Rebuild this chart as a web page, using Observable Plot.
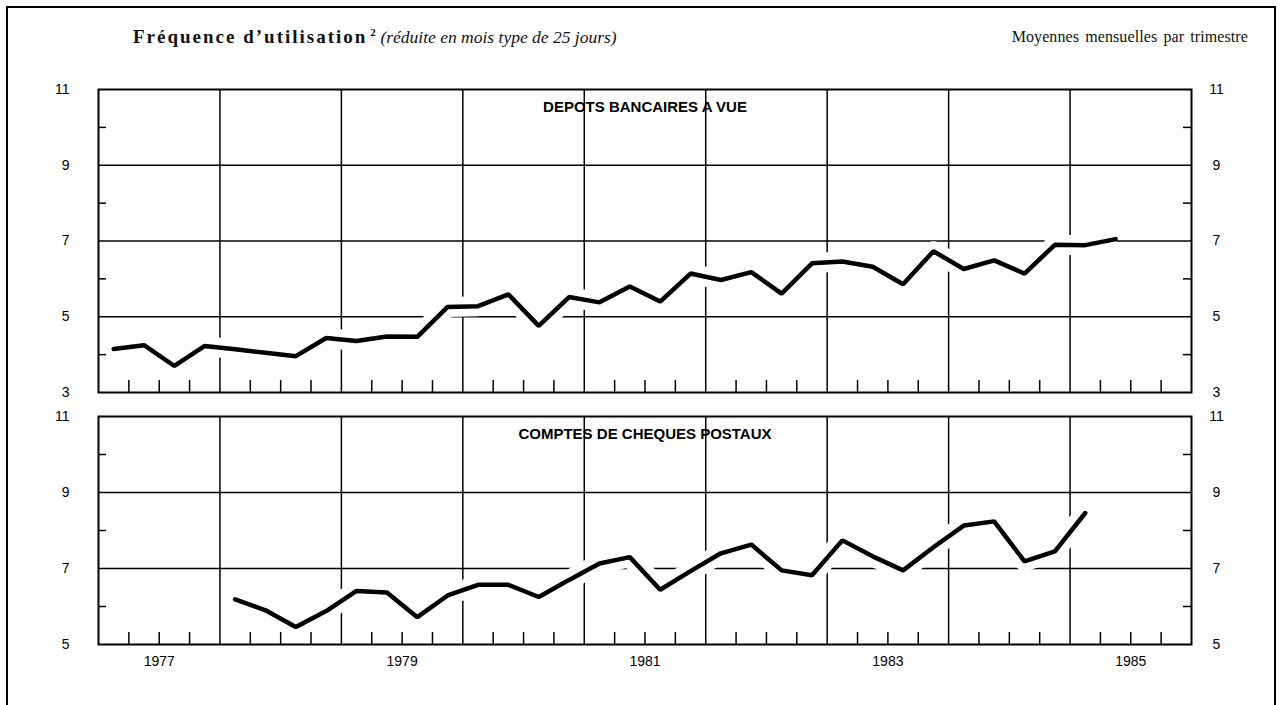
<!DOCTYPE html>
<html>
<head>
<meta charset="utf-8">
<script src="https://cdn.jsdelivr.net/npm/d3@7"></script>
<script src="https://cdn.jsdelivr.net/npm/@observablehq/plot@0.6"></script>
<style>
  html, body { margin: 0; padding: 0; background: white; }
  body { width: 1281px; height: 705px; position: relative; overflow: hidden; }
  #frame { position: absolute; left: 6px; top: 6px; width: 1270px; height: 720px;
           border: 2.5px solid black; box-sizing: border-box; }
  .title { position: absolute; top: 26px; font-family: "Liberation Serif", "DejaVu Serif", serif;
           line-height: 22px; color: #111; white-space: nowrap; }
  #tl { left: 133px; font-size: 19px; }
  #tl b { letter-spacing: 2px; }
  #tl i { letter-spacing: 0px; font-size: 17.5px; }
  #tl sup { font-size: 11px; font-weight: bold; vertical-align: 7px; line-height: 0; }
  #tr { right: 33px; font-size: 16px; letter-spacing: 0.1px; word-spacing: 2px; }
  .panel { position: absolute; left: 0; }
  #top { top: 60px; }
  #bottom { top: 404px; }
</style>
</head>
<body>
<div id="frame"></div>
<div class="title" id="tl"><b>Fréquence d’utilisation</b><sup> 2</sup> <i>(réduite en mois type de 25 jours)</i></div>
<div class="title" id="tr">Moyennes mensuelles par trimestre</div>
<div class="panel" id="top"></div>
<div class="panel" id="bottom"></div>
<script>
// ---- Data (quarterly monthly averages) ----
const depotsStartYear = 1977;   // first value = 1977 Q1
const depotsValues = [
  4.15, 4.25, 3.70, 4.23,
  4.14, 4.05, 3.96, 4.44,
  4.36, 4.48, 4.47, 5.26,
  5.28, 5.59, 4.76, 5.52,
  5.38, 5.80, 5.40, 6.14,
  5.97, 6.18, 5.61, 6.41,
  6.46, 6.32, 5.86, 6.73,
  6.26, 6.49, 6.14, 6.90,
  6.89, 7.05
];
const ccpStartYear = 1978;      // first value = 1978 Q1
const ccpValues = [
  6.19, 5.90, 5.46, 5.88,
  6.41, 6.37, 5.72, 6.29,
  6.57, 6.57, 6.25, 6.70,
  7.13, 7.30, 6.44, 6.93,
  7.40, 7.63, 6.95, 6.82,
  7.74, 7.32, 6.95, 7.56,
  8.13, 8.24, 7.19, 7.45,
  8.46
];
const yearLabels = [1977, 1979, 1981, 1983, 1985];
const yearBoundaries = [1978, 1979, 1980, 1981, 1982, 1983, 1984, 1985];
const topTitle = "DEPOTS BANCAIRES A VUE";
const bottomTitle = "COMPTES DE CHEQUES POSTAUX";
const topYTicks = [3, 5, 7, 9, 11];
const bottomYTicks = [5, 7, 9, 11];
const topMinorY = [4, 6, 8, 10];
const bottomMinorY = [6, 8, 10];

// ---- derived tables ----
const toRows = (start, vals) => vals.map((v, i) => ({t: start + (i + 0.5) / 4, v}));
const depots = toRows(depotsStartYear, depotsValues);
const ccp = toRows(ccpStartYear, ccpValues);
const quarterTicks = d3.range(1977, 1986).flatMap(y => [y + 0.25, y + 0.5, y + 0.75]);

const W = 1281, ML = 98, MR = 90;
const frameW = W - ML - MR;
const font = {fontFamily: "'Liberation Sans', Arial, sans-serif", fontSize: "14px", background: "transparent", overflow: "visible", color: "black"};

function panel({height, marginTop, marginBottom, yDomain, yTicks, minorY, rows, title, xLabels}) {
  const frameH = height - marginTop - marginBottom;
  return Plot.plot({
    width: W, height, marginLeft: ML, marginRight: MR, marginTop, marginBottom,
    style: font,
    x: {domain: [1977, 1986], axis: null},
    y: {domain: yDomain, axis: null},
    marks: [
      Plot.ruleY(yTicks.filter(d => d !== yDomain[0] && d !== yDomain[1]), {stroke: "black", strokeWidth: 1.5}),
      Plot.ruleX(yearBoundaries, {stroke: "black", strokeWidth: 1.5}),
      Plot.ruleY(minorY, {stroke: "black", strokeWidth: 1.5, insetRight: frameW - 8}),
      Plot.ruleY(minorY, {stroke: "black", strokeWidth: 1.5, insetLeft: frameW - 8}),
      Plot.ruleX(quarterTicks, {stroke: "black", strokeWidth: 1.5, insetTop: frameH - 12}),
      Plot.frame({stroke: "black", strokeWidth: 2}),
      Plot.line(rows, {x: "t", y: "v", stroke: "white", strokeWidth: 20, strokeLinecap: "butt"}),
      Plot.line(rows, {x: "t", y: "v", stroke: "black", strokeWidth: 4.5, strokeLinejoin: "miter"}),
      Plot.axisY({anchor: "left", label: null, ticks: yTicks, tickSize: 0, tickPadding: 29, tickFormat: d => String(d), fontSize: 14}),
      Plot.axisY({anchor: "right", label: null, ticks: yTicks, tickSize: 0, tickPadding: 25, textAnchor: "middle", tickFormat: d => String(d), fontSize: 14}),
      Plot.text([title], {frameAnchor: "top", lineAnchor: "middle", dy: 18, fontWeight: "bold", fontSize: 15, text: d => d}),
      xLabels ? Plot.axisX({anchor: "bottom", label: null, ticks: yearLabels.map(y => y + 0.5), tickSize: 0, tickPadding: 12, tickFormat: d => String(Math.floor(d)), fontSize: 14}) : null
    ]
  });
}

document.getElementById("top").append(panel({
  height: 344, marginTop: 29, marginBottom: 12,
  yDomain: [3, 11], yTicks: topYTicks, minorY: topMinorY,
  rows: depots, title: topTitle, xLabels: false
}));
document.getElementById("bottom").append(panel({
  height: 301, marginTop: 12, marginBottom: 61,
  yDomain: [5, 11], yTicks: bottomYTicks, minorY: bottomMinorY,
  rows: ccp, title: bottomTitle, xLabels: true
}));
</script>
</body>
</html>
